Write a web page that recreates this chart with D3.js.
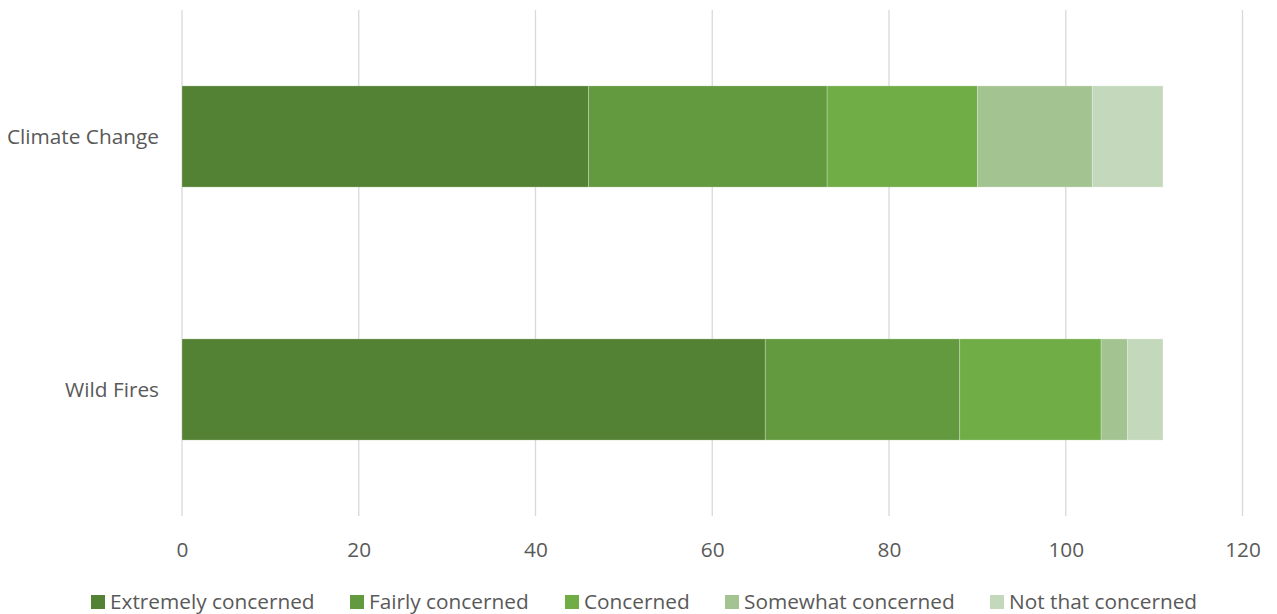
<!DOCTYPE html>
<html><head><meta charset="utf-8">
<script src="https://cdn.jsdelivr.net/npm/d3@7"></script>
<style>body{margin:0;background:#fff;} text{font-family:"Open Sans",sans-serif;fill:#595959;}</style>
</head><body><svg id="c" width="1277" height="614"></svg>
<script>
const categories = ["Climate Change", "Wild Fires"];
const seriesNames = ["Extremely concerned", "Fairly concerned", "Concerned", "Somewhat concerned", "Not that concerned"];
const extremely = [46, 66];
const fairly = [27, 22];
const concerned = [17, 16];
const somewhat = [13, 3];
const notThat = [8, 4];
const xTicks = [0, 20, 40, 60, 80, 100, 120];
const colors = ["#548235", "#63993f", "#70ad47", "#a3c491", "#c4d8bb"];

const seriesVals = [extremely, fairly, concerned, somewhat, notThat];
const rows = categories.map((c, i) => {
  const r = {cat: c};
  seriesNames.forEach((s, j) => r[s] = seriesVals[j][i]);
  return r;
});
const stacked = d3.stack().keys(seriesNames)(rows);

const svg = d3.select("#c");
const x = d3.scaleLinear().domain([0, 120]).range([182, 1242.5]);
const y = d3.scaleBand().domain(categories).range([10, 516]).paddingInner(0.6).paddingOuter(0.3);
const FS = 20.8;

// gridlines
svg.append("g").selectAll("line").data(xTicks).join("line")
  .attr("x1", d => x(d)).attr("x2", d => x(d)).attr("y1", 10).attr("y2", 516)
  .attr("stroke", "#d9d9d9").attr("stroke-width", 1.3);

// bars
svg.append("g").selectAll("g").data(stacked).join("g")
  .attr("fill", (d, i) => colors[i])
  .selectAll("rect").data(d => d).join("rect")
  .attr("x", d => x(d[0])).attr("width", d => x(d[1]) - x(d[0]))
  .attr("y", d => y(d.data.cat)).attr("height", y.bandwidth())
  .attr("stroke", "rgba(255,255,255,0.3)").attr("stroke-width", 0.8);

// x axis labels
const xa = d3.axisBottom(x).tickValues(xTicks).tickSize(0).tickPadding(0);
const gx = svg.append("g").attr("transform", "translate(0,557)").call(xa);
gx.select(".domain").remove();
gx.selectAll("text").attr("font-size", FS).attr("dy", 0).style("font-family", "'Open Sans',sans-serif").attr("fill", "#595959");

// y axis labels
const ya = d3.axisLeft(y).tickSize(0).tickPadding(0);
const gy = svg.append("g").attr("transform", "translate(159,0)").call(ya);
gy.select(".domain").remove();
gy.selectAll("text").attr("font-size", FS).attr("dy", "0.35em").style("font-family", "'Open Sans',sans-serif").attr("fill", "#595959");

// legend
const legendX = [91, 350, 565, 725, 990];
const lg = svg.append("g");
seriesNames.forEach((s, i) => {
  lg.append("rect").attr("x", legendX[i]).attr("y", 595).attr("width", 14).attr("height", 14).attr("fill", colors[i]);
  lg.append("text").attr("x", legendX[i] + 19).attr("y", 609).attr("font-size", FS).text(s);
});
</script></body></html>
